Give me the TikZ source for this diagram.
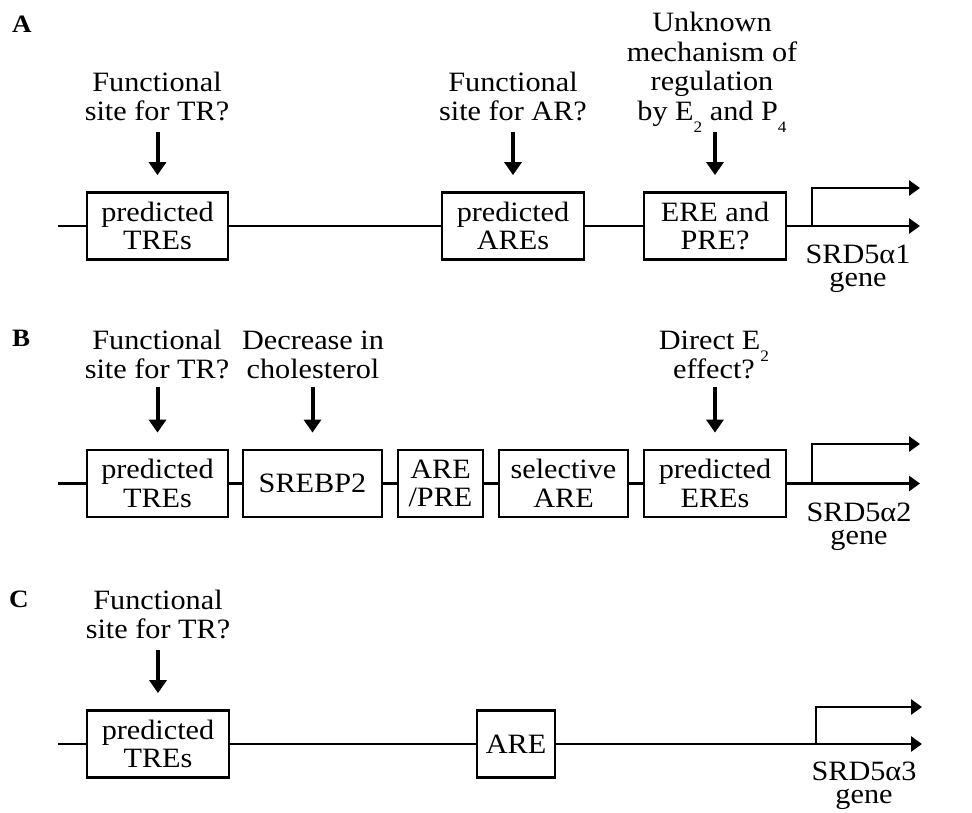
\documentclass[tikz,border=0pt]{standalone}
\usepackage{fontspec}
\setmainfont{Liberation Serif}[FakeStretch=1.08]
\usetikzlibrary{arrows.meta}
\newcommand{\stk}[1]{\begin{tabular}[b]{@{}c@{}}#1\end{tabular}}
\newcommand{\lowsub}[1]{\raisebox{-12pt}[0pt][0pt]{\fontsize{16}{16}\selectfont #1}}
\begin{document}
\begin{tikzpicture}[x=1pt,y=-1pt,
  every node/.style={font=\fontsize{28}{28.5}\selectfont},
  box/.style={draw, line width=2.8pt, minimum height=67pt, inner sep=0pt, align=center},
  lbl/.style={anchor=base, inner sep=0pt},
  dna/.style={line width=2.8pt},
  pointer/.style={line width=4pt, -{Triangle[width=17pt,length=13pt]}, shorten >=16pt},
  tss/.style={line width=2.8pt, -{Triangle[width=15pt,length=11pt]}},
  panel/.style={anchor=base west, inner sep=0pt, font=\fontsize{25}{25}\selectfont\bfseries}]
\useasboundingbox (0,0) rectangle (972,812);

% ---------------- Panel A
\node[panel] (pA) at (12,32) {A};
\node[box, minimum width=141pt] (a1) at (157.5,226) {predicted\\TREs};
\node[box, minimum width=142pt] (a2) at (513,226) {predicted\\AREs};
\node[box, minimum width=142pt] (a3) at (715,226) {ERE and\\PRE?};
\coordinate (a0) at (58,226);
\coordinate (aB) at (812,226);
\coordinate (aE) at (920,226);
\coordinate (aU) at (812,188);
\coordinate (aUE) at (920,188);
\draw[dna] (a0) -- (a1) (a1) -- (a2) (a2) -- (a3) (a3) -- (aB);
\draw[tss] (aB) -- (aE);
\draw[tss] (aB) -- (aU) -- (aUE);
\node[lbl] (tA1) at (157,120) {\stk{Functional\\site for TR?}};
\node[lbl] (tA2) at (513,120) {\stk{Functional\\site for AR?}};
\node[lbl] (tA3) at (712,120) {\stk{Unknown\\[1pt]mechanism of\\[1pt]regulation\\[1pt]by E\lowsub{2} and P\lowsub{4}}};
\coordinate (sA1) at (157.5,132);
\coordinate (sA2) at (513,132);
\coordinate (sA3) at (715,132);
\draw[pointer] (sA1) -- (sA1 |- a1.north);
\draw[pointer] (sA2) -- (sA2 |- a2.north);
\draw[pointer] (sA3) -- (sA3 |- a3.north);
\node[lbl] (gA) at (858,286) {\stk{SRD5α1\\[-6pt]gene}};

% ---------------- Panel B
\node[panel] (pB) at (12,346) {B};
\node[box, minimum width=141pt] (b1) at (157.5,483.5) {predicted\\TREs};
\node[box, minimum width=139pt] (b2) at (312.5,483.5) {SREBP2};
\node[box, minimum width=85pt] (b3) at (440.5,483.5) {ARE\\/PRE};
\node[box, minimum width=129pt] (b4) at (563.5,483.5) {selective\\ARE};
\node[box, minimum width=142pt] (b5) at (715,483.5) {predicted\\EREs};
\coordinate (b0) at (58,483.5);
\coordinate (bB) at (812,483.5);
\coordinate (bE) at (920,483.5);
\coordinate (bU) at (812,444);
\coordinate (bUE) at (920,444);
\draw[dna] (b0) -- (b1) (b1) -- (b2) (b2) -- (b3) (b3) -- (b4) (b4) -- (b5) (b5) -- (bB);
\draw[tss] (bB) -- (bE);
\draw[tss] (bB) -- (bU) -- (bUE);
\node[lbl] (tB1) at (157,378) {\stk{Functional\\site for TR?}};
\node[lbl] (tB2) at (313,378) {\stk{Decrease in\\cholesterol}};
\node[lbl] (tB5) at (714,378) {\stk{Direct E\lowsub{2}\\effect?}};
\coordinate (sB1) at (157.5,387);
\coordinate (sB2) at (312.5,387);
\coordinate (sB5) at (715,387);
\draw[pointer] (sB1) -- (sB1 |- b1.north);
\draw[pointer] (sB2) -- (sB2 |- b2.north);
\draw[pointer] (sB5) -- (sB5 |- b5.north);
\node[lbl] (gB) at (859,544) {\stk{SRD5α2\\[-6pt]gene}};

% ---------------- Panel C
\node[panel] (pC) at (9,607) {C};
\node[box, minimum width=142pt] (c1) at (158,744) {predicted\\TREs};
\node[box, minimum width=78pt] (c2) at (516,744) {ARE};
\coordinate (c0) at (58,744);
\coordinate (cB) at (816,744);
\coordinate (cE) at (922,744);
\coordinate (cU) at (816,707);
\coordinate (cUE) at (922,707);
\draw[dna] (c0) -- (c1) (c1) -- (c2) (c2) -- (cB);
\draw[tss] (cB) -- (cE);
\draw[tss] (cB) -- (cU) -- (cUE);
\node[lbl] (tC1) at (158,638) {\stk{Functional\\site for TR?}};
\coordinate (sC1) at (158,650);
\draw[pointer] (sC1) -- (sC1 |- c1.north);
\node[lbl] (gC) at (864,803) {\stk{SRD5α3\\[-6pt]gene}};
\end{tikzpicture}
\end{document}
